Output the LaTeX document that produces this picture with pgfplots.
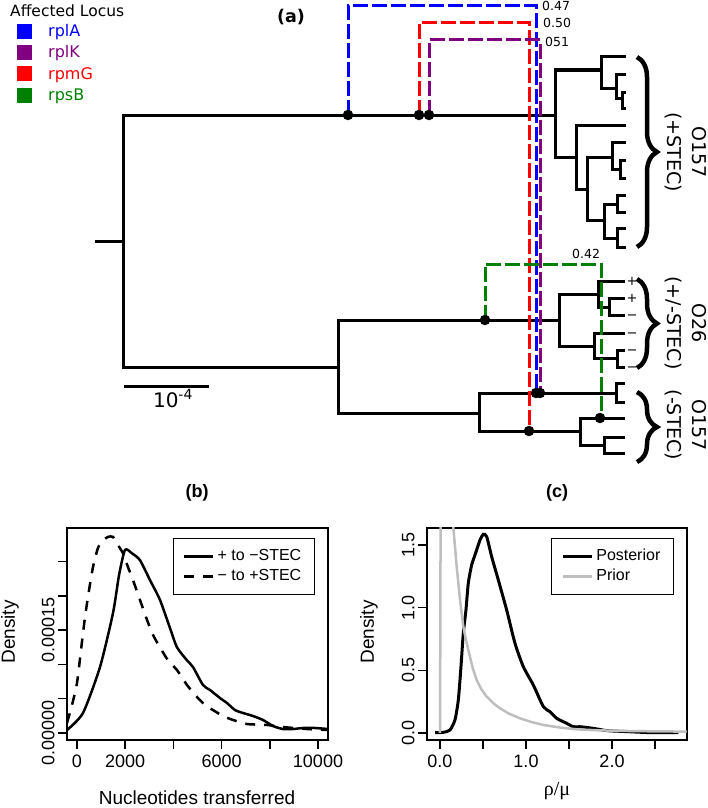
\documentclass[border=0pt]{standalone}
\usepackage{fontspec}
\setmainfont{Liberation Sans}
\newfontfamily\dejavu{DejaVu Sans}
\newfontfamily\serif{Liberation Serif}
\usepackage{pgfplots}
\pgfplotsset{compat=1.18}
\usetikzlibrary{decorations.pathreplacing}
\definecolor{rpurple}{RGB}{128,0,128}
\definecolor{rgreen}{RGB}{0,128,0}
\definecolor{priorgray}{RGB}{190,190,190}

\pgfplotsset{
  tree/.style={black, line width=3pt, line join=miter, no markers},
  hgt/.style={line width=3pt, dash pattern=on 15pt off 4pt, no markers},
  rpanel/.style={
    anchor=south west, scale only axis, width=261pt, height=212pt,
    axis line style={line width=1.5pt},
    tick align=outside, xtick pos=bottom, ytick pos=left,
    major tick length=9pt, tick style={line width=1.5pt, black},
    scaled x ticks=false, scaled y ticks=false,
    ticklabel style={font=\fontsize{18}{21}\selectfont},
    xticklabel style={yshift=-2pt},
    yticklabel style={rotate=90, anchor=south},
    legend image code/.code={\draw[##1] (0pt,0pt) -- (29pt,0pt);},
    legend cell align=left,
    legend style={anchor=north east, draw=black, line width=1.3pt,
      font=\fontsize{16}{19}\selectfont, inner xsep=10pt, inner ysep=8pt,
      nodes={text height=11pt, text depth=3pt, inner sep=3pt},
      /tikz/every even column/.append style={column sep=8pt}},
  },
}

\begin{document}
\begin{tikzpicture}
\useasboundingbox (0,0) rectangle (708pt,808pt);

% panel (a): tree in pixel coordinates
\begin{axis}[at={(0,0)}, anchor=south west, scale only axis,
  width=708pt, height=808pt, xmin=0, xmax=708, ymin=0, ymax=808,
  y dir=reverse, hide axis, clip=false, unbounded coords=jump]

\addplot[tree] coordinates {
(95,241) (123,241) (nan,nan)
(555,115) (123,115) (123,367) (338,367) (nan,nan)
(601,70) (555,70) (555,157) (576,157) (nan,nan)
(626,57) (601,57) (601,88) (616,88) (nan,nan)
(626,74) (616,74) (616,98) (622,98) (nan,nan)
(626,92) (622,92) (622,108) (626,108) (nan,nan)
(626,125) (576,125) (576,189) (587,189) (nan,nan)
(612,157) (587,157) (587,220) (604,220) (nan,nan)
(626,142) (612,142) (612,169) (620,169) (nan,nan)
(626,160) (620,160) (620,178) (626,178) (nan,nan)
(617,204) (604,204) (604,238) (617,238) (nan,nan)
(626,195) (617,195) (617,212) (626,212) (nan,nan)
(626,228) (617,228) (617,247) (626,247) (nan,nan)
(559,320) (338,320) (338,413) (479,413) (nan,nan)
(598,294) (559,294) (559,346) (594,346) (nan,nan)
(625,281) (598,281) (598,307) (609,307) (nan,nan)
(625,298) (609,298) (609,315) (625,315) (nan,nan)
(625,333) (594,333) (594,358) (617,358) (nan,nan)
(625,350) (617,350) (617,367) (625,367) (nan,nan)
(616,393) (479,393) (479,431) (580,431) (nan,nan)
(625,383) (616,383) (616,402) (625,402) (nan,nan)
(625,418) (580,418) (580,445) (604,445) (nan,nan)
(625,437) (604,437) (604,453) (625,453) (nan,nan)
(124,386) (209,386)
};

% transfer events
\addplot[hgt, color=blue] coordinates {(348,115) (348,6) (536,6) (536,393)};
\addplot[hgt, color=red] coordinates {(419,115) (419,23) (529,23) (529,431)};
\addplot[hgt, color=rpurple] coordinates {(429,115) (429,40) (540,40) (540,393)};
\addplot[hgt, color=rgreen] coordinates {(485,320) (485,264) (601,264) (601,418)};

\addplot[only marks, mark=*, mark size=5pt, black] coordinates {
(348,115) (419,115) (429,115) (485,320) (536,393) (540,393) (529,431) (600,418)};

% legend squares
\addplot[only marks, mark=square*, mark size=7pt, blue] coordinates {(24.5,31.5)};
\addplot[only marks, mark=square*, mark size=7pt, rpurple] coordinates {(24.5,52.5)};
\addplot[only marks, mark=square*, mark size=7pt, red] coordinates {(24.5,73.5)};
\addplot[only marks, mark=square*, mark size=7pt, rgreen] coordinates {(24.5,95)};

\node[anchor=base west, inner sep=0pt, font=\dejavu\fontsize{15.5}{18}\selectfont] at (axis cs:10,17) {Affected Locus};
\begin{scope}[every node/.style={anchor=base west, inner sep=0pt, font=\dejavu\fontsize{16}{19}\selectfont}]
\node[text=blue] at (axis cs:48,37) {rplA};
\node[text=rpurple] at (axis cs:48,58) {rplK};
\node[text=red] at (axis cs:48,79) {rpmG};
\node[text=rgreen] at (axis cs:48,100) {rpsB};
\end{scope}
\node[font=\dejavu\bfseries\fontsize{17.5}{20}\selectfont] at (axis cs:291,17) {(a)};

\begin{scope}[every node/.style={anchor=base west, inner sep=0pt, font=\dejavu\fontsize{12.5}{15}\selectfont}]
\node at (axis cs:542,10.5) {0.47};
\node at (axis cs:543,28) {0.50};
\node at (axis cs:545,47) {051};
\node at (axis cs:572,258) {0.42};
\end{scope}

\begin{scope}[every node/.style={anchor=base west, inner sep=1.5pt, font=\dejavu\fontsize{13}{15}\selectfont}]
\node at (axis cs:625,285) {+};
\node at (axis cs:625,302) {+};
\node at (axis cs:625,319) {−};
\node at (axis cs:625,337) {−};
\node at (axis cs:625,354) {−};
\node at (axis cs:625,371) {−};
\end{scope}

\draw[line width=4.5pt, decorate, decoration={brace, amplitude=20pt}] (axis cs:637,57) -- (axis cs:637,247);
\draw[line width=4.5pt, decorate, decoration={brace, amplitude=20pt}] (axis cs:637,279) -- (axis cs:637,368);
\draw[line width=4.5pt, decorate, decoration={brace, amplitude=20pt}] (axis cs:637,392) -- (axis cs:637,462);

\begin{scope}[every node/.style={rotate=-90, align=center, font=\dejavu\fontsize{19}{25}\selectfont}]
\node at (axis cs:686,152) {O157\\(+STEC)};
\node at (axis cs:686,323) {O26\\(+/-STEC)};
\node at (axis cs:686,425) {O157\\(-STEC)};
\end{scope}

\node[anchor=base, font=\dejavu\fontsize{20}{22}\selectfont] at (axis cs:173,407) {10\textsuperscript{-4}};

% labels of panels (b) and (c)
\node[font=\bfseries\fontsize{18}{21}\selectfont] at (axis cs:197,493) {(b)};
\node[font=\bfseries\fontsize{18}{21}\selectfont] at (axis cs:557,493) {(c)};
\node[font=\fontsize{19}{22}\selectfont] at (axis cs:197,798) {Nucleotides transferred};
\node[font=\serif\fontsize{20}{22}\selectfont] at (axis cs:557,791) {ρ/μ};
\node[rotate=90, font=\fontsize{19}{22}\selectfont] at (axis cs:10,632) {Density};
\node[rotate=90, font=\fontsize{19}{22}\selectfont] at (axis cs:369,632) {Density};
\end{axis}

% panel (b)
\begin{axis}[rpanel, at={(67pt,68pt)},
  xmin=-415, xmax=10415, ymin=-0.0000102, ymax=0.000299,
  xtick={0,2000,4000,6000,8000,10000}, xticklabels={0,2000,,6000,,10000},
  ytick={0,0.00005,0.0001,0.00015,0.0002,0.00025}, yticklabels={0.00000,,,0.00015,,},
  legend style={at={(axis description cs:0.950,0.953)}}]
\addplot[black, line width=2.5pt, no markers, smooth, tension=0.4] coordinates {
(-415,0.0000044) (249,0.0000292) (954,0.0000962) (1494,0.000175) (1743,0.000230)
(1992,0.000267) (2282,0.000262) (2614,0.000252) (3029,0.000223) (3444,0.000194)
(3859,0.000153) (4149,0.000125) (4564,0.000106) (4813,0.0000962) (5228,0.0000700)
(5519,0.0000627) (5934,0.0000510) (6224,0.0000437) (6556,0.0000335) (6888,0.0000292)
(7303,0.0000248) (7718,0.0000190) (8133,0.0000102) (8548,0.0000058) (8963,0.0000058)
(9378,0.0000073) (9876,0.0000073) (10415,0.0000058)};
\addlegendentry{+ to −STEC}
\addplot[black, line width=2.5pt, dash pattern=on 10pt off 9pt, no markers, smooth, tension=0.4] coordinates {
(-415,0.0000146) (-207,0.0000408) (0,0.0000729) (166,0.000121) (332,0.000169)
(498,0.000208) (664,0.000242) (871,0.000270) (1079,0.000281) (1286,0.000286)
(1494,0.000286) (1701,0.000274) (1909,0.000262) (2116,0.000242) (2324,0.000223)
(2614,0.000194) (2905,0.000165) (3154,0.000143) (3444,0.000125) (3776,0.000106)
(4149,0.0000918) (4564,0.0000700) (4979,0.0000525) (5311,0.0000408) (5643,0.0000335)
(6058,0.0000248) (6473,0.0000190) (7054,0.0000131) (7884,0.0000117) (8548,0.0000087)
(9544,0.0000058) (10415,0.0000044)};
\addlegendentry{− to +STEC}
\end{axis}

% panel (c)
\begin{axis}[rpanel, at={(427pt,68pt)}, width=260pt,
  xmin=-0.151, xmax=2.872, ymin=-0.056, ymax=1.636,
  xtick={0,0.5,1,1.5,2,2.5}, xticklabels={0.0,,1.0,,2.0,},
  ytick={0,0.5,1,1.5}, yticklabels={0.0,0.5,1.0,1.5},
  legend style={at={(axis description cs:0.950,0.953)}}]
\addplot[black, line width=3pt, no markers, smooth, tension=0.4] coordinates {
(-0.058,0.003) (0.039,0.005) (0.116,0.024) (0.174,0.104) (0.213,0.263) (0.244,0.529)
(0.271,0.796) (0.302,0.982) (0.329,1.195) (0.368,1.341) (0.407,1.421) (0.465,1.540)
(0.504,1.586) (0.543,1.567) (0.601,1.407) (0.678,1.221) (0.775,0.982) (0.872,0.716)
(0.969,0.529) (1.085,0.383) (1.202,0.210) (1.279,0.170) (1.357,0.117) (1.473,0.077)
(1.550,0.050) (1.628,0.050) (1.783,0.037) (1.938,0.019) (2.171,0.011) (2.442,0.003)
(2.771,0.003)};
\addlegendentry{Posterior}
\addplot[priorgray, line width=2.5pt, no markers] coordinates {
(0,0) (0.004,0.8) (0.008,2.0) (0.03,5) (0.08,4) (0.12,2.4) (0.155,1.64) (0.194,1.33)
(0.233,1.061) (0.271,0.849) (0.300,0.750) (0.329,0.663) (0.380,0.520) (0.427,0.423)
(0.480,0.350) (0.543,0.290) (0.620,0.237) (0.698,0.197) (0.800,0.155) (0.930,0.117)
(1.060,0.088) (1.202,0.064) (1.400,0.043) (1.589,0.029) (1.850,0.021) (2.171,0.016)
(2.500,0.013) (2.869,0.011)};
\addlegendentry{Prior}
\end{axis}
\end{tikzpicture}
\end{document}
